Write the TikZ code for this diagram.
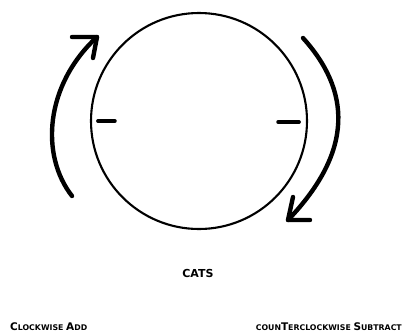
\documentclass[tikz,border=0pt]{standalone}
\usepackage{fontspec}
\setsansfont{DejaVu Sans}
\usetikzlibrary{positioning}

\tikzset{
  turn/.style={line width=4.4pt, line cap=round, line join=round},
  lab/.style={font=\sffamily\bfseries\fontsize{7.8}{9}\selectfont, inner sep=0pt},
}
\newcommand{\capletter}[1]{{\fontsize{10.5}{11}\selectfont #1}}

\begin{document}
\begin{tikzpicture}[x=1pt, y=-1pt]
\useasboundingbox (0,0) rectangle (405,333);
\node[circle, draw, line width=2.1pt, minimum size=216pt, inner sep=0pt] (wheel) at (199,121) {};
\draw[line width=3.6pt, line cap=round] ([xshift=8pt]wheel.west) -- ++(17,0);
\draw[line width=3.6pt, line cap=round] ([xshift=-9pt,yshift=-1pt]wheel.east) -- ++(-21,0);

% clockwise arrow
\coordinate (cwtail) at (72,196);
\coordinate (cwtip) at (97,37);
\draw[turn] (cwtail) .. controls (40,155) and (45,85) .. (cwtip);
\draw[turn] (cwtip) ++(-25,0) -- (cwtip) -- ++(-4,21);

% counterclockwise arrow
\coordinate (ccwtail) at (303,38);
\coordinate (ccwtip) at (288,220);
\draw[turn] (ccwtail) .. controls (350,90) and (355,150) .. (ccwtip);
\draw[turn] (ccwtip) ++(22,0) -- (ccwtip) -- ++(5,-23);

\node[lab, font=\sffamily\bfseries\fontsize{11}{12}\selectfont, anchor=base] (cats) at (198,277) {CATS};
\node[lab, anchor=base west] (cwlab) at (10,330) {\capletter{C}LOCKWISE \capletter{A}DD};
\node[lab, anchor=base east] (ccwlab) at (402,330) {COUN\capletter{T}ERCLOCKWISE \capletter{S}UBTRACT};
\end{tikzpicture}
\end{document}
